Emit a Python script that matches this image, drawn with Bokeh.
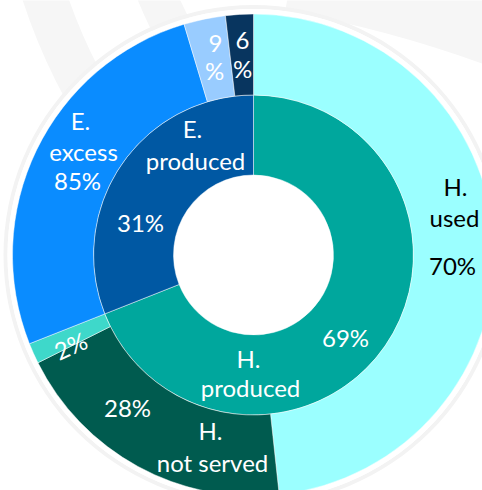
import numpy as np
from bokeh.plotting import figure
from bokeh.models import ColumnDataSource
from bokeh.core.properties import value
from bokeh.embed import file_html
from bokeh.resources import INLINE

# ---------------- data ----------------
inner_names = ["H. produced", "E. produced"]
inner_values = [69, 31]
inner_colors = ["#00A79D", "#0058A3"]

h_names = ["H. used", "H. not served", "H. other"]
h_values = [70, 28, 2]
h_colors = ["#9BFFFF", "#005B4F", "#3ED8CA"]

e_names = ["E. excess", "E. other 1", "E. other 2"]
e_values = [85, 9, 6]
e_colors = ["#0A8CFF", "#99CCFF", "#08355F"]

# ---------------- layout ----------------
W, H = 482, 490
CX, CY = 0.0, 0.0
R0, R1, R2 = 80, 160, 241

p = figure(width=W, height=H, output_backend="svg", toolbar_location=None,
           x_range=(-253, W - 253), y_range=(254.5 - H, 254.5),
           x_axis_location=None, y_axis_location=None, min_border=0)
p.grid.visible = False
p.outline_line_color = None
p.background_fill_color = "white"
p.border_fill_color = "white"

# faint background watermark shapes
WM = "#F6F6F6"
p.annular_wedge(x=[339.5], y=[441.5], inner_radius=[556], outer_radius=[600],
                start_angle=[np.radians(190)], end_angle=[np.radians(215)],
                color=WM, line_color=None)
p.annular_wedge(x=[339.5], y=[441.5], inner_radius=[453], outer_radius=[492],
                start_angle=[np.radians(195)], end_angle=[np.radians(225)],
                color=WM, line_color=None)
p.annular_wedge(x=[-173], y=[-917], inner_radius=[1179], outer_radius=[1240],
                start_angle=[np.radians(64)], end_angle=[np.radians(80)],
                color=WM, line_color=None)
# soft shadow + white halo around the donut
p.annular_wedge(x=[CX], y=[CY], inner_radius=[R2 + 5], outer_radius=[R2 + 9],
                start_angle=[0], end_angle=[2 * np.pi],
                color="#F3F3F3", line_color=None)
p.annular_wedge(x=[CX], y=[CY], inner_radius=[R2], outer_radius=[R2 + 5],
                start_angle=[0], end_angle=[2 * np.pi],
                color="white", line_color=None)

def wedges(values, frac_parent, start_frac):
    # clockwise from the top
    starts, ends = [], []
    cum = start_frac
    for v in values:
        f = v / 100.0 * frac_parent
        ends.append(np.pi / 2 - cum * 2 * np.pi)
        starts.append(np.pi / 2 - (cum + f) * 2 * np.pi)
        cum += f
    return starts, ends

# inner ring
s, e = wedges(inner_values, 1.0, 0.0)
src_in = ColumnDataSource(dict(start=s, end=e, color=inner_colors))
p.annular_wedge(x=CX, y=CY, inner_radius=R0, outer_radius=R1,
                start_angle="start", end_angle="end", color="color",
                line_color="white", line_width=0.8, line_alpha=0.6, source=src_in)

# outer ring
h_frac = inner_values[0] / 100.0
e_frac = inner_values[1] / 100.0
s1, e1 = wedges(h_values, h_frac, 0.0)
s2, e2 = wedges(e_values, e_frac, h_frac)
src_out = ColumnDataSource(dict(start=s1 + s2, end=e1 + e2, color=h_colors + e_colors))
p.annular_wedge(x=CX, y=CY, inner_radius=R1, outer_radius=R2,
                start_angle="start", end_angle="end", color="color",
                line_color="white", line_width=0.8, line_alpha=0.6, source=src_out)

# labels (text, x, y, color, angle)
labels = [
    ("E.", -173, 134.5, "white", 0),
    ("excess", -170, 103.5, "white", 0),
    (f"{e_values[0]}%", -176, 74.5, "white", 0),
    ("E.", -61, 126.5, "white", 0),
    ("produced", -58, 94.5, "white", 0),
    (f"{inner_values[1]}%", -113, 32.5, "white", 0),
    (f"{e_values[1]}", -38, 211.5, "white", 0),
    ("%", -39, 184.5, "white", 0),
    (f"{e_values[2]}", -11, 214.5, "white", 0),
    ("%", -11, 186.5, "white", 0),
    ("H.", 202, 68.5, "black", 0),
    ("used", 201, 37.5, "black", 0),
    (f"{h_values[0]}%", 199, -10.5, "black", 0),
    (f"{inner_values[0]}%", 92, -82.5, "white", 0),
    ("H.", -5, -103.5, "white", 0),
    ("produced", -3, -132.5, "white", 0),
    (f"{h_values[1]}%", -126, -152.5, "white", 0),
    ("H.", -43, -175.5, "white", 0),
    ("not served", -41, -207.5, "white", 0),
    (f"{h_values[2]}%", -183, -90.5, "white", 0.42),
]
src_lab = ColumnDataSource(dict(
    text=[l[0] for l in labels], x=[l[1] for l in labels], y=[l[2] for l in labels],
    color=[l[3] for l in labels], angle=[l[4] for l in labels]))
p.text(x="x", y="y", text="text", text_color="color", angle="angle",
       text_font=value("Lato"), text_font_size="24px",
       text_align="center", text_baseline="middle", source=src_lab)

open("out.html", "w").write(file_html(p, INLINE))
